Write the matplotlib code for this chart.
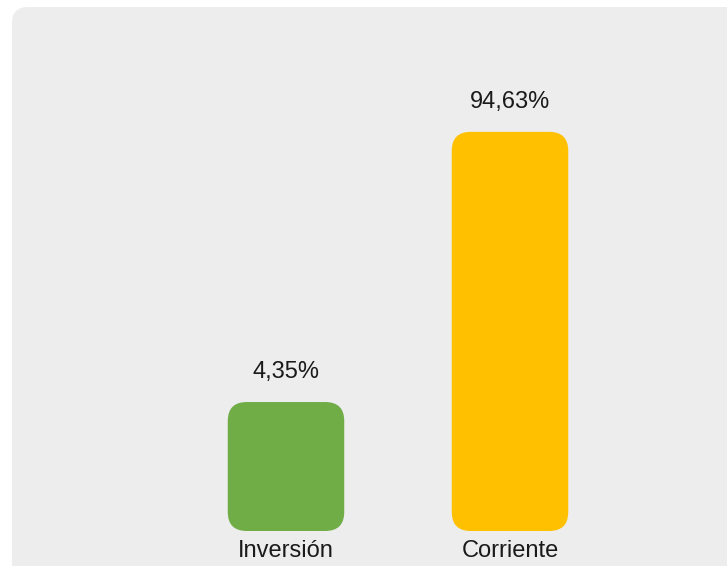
import matplotlib
matplotlib.use("Agg")
import matplotlib.pyplot as plt
from matplotlib.patches import FancyBboxPatch
from matplotlib.transforms import IdentityTransform

categories = ["Inversión", "Corriente"]
shares = [4.35, 94.63]
value_labels = ["4,35%", "94,63%"]
bar_colors = ["#70AD47", "#FFC000"]

W, H, DPI = 727, 566, 100
plt.rcParams["font.family"] = ["Liberation Sans Narrow", "Liberation Sans", "DejaVu Sans"]

fig = plt.figure(figsize=(W / DPI, H / DPI), dpi=DPI)
fig.patch.set_facecolor("white")

# grey rounded panel behind the chart (runs off the right and bottom edges)
panel = FancyBboxPatch((12, -20), W + 40, H - 7 + 20,
                       boxstyle="round,pad=0,rounding_size=16",
                       transform=IdentityTransform(), facecolor="#EDEDED",
                       edgecolor="none", zorder=0)
fig.patches.append(panel)

# axes spanning the figure: log scale, baseline at 1
base_px = 35
ax = fig.add_axes([0, base_px / H, 1, 1 - base_px / H])
ax.set_yscale("log")
px_per_unit = 224
ax.set_xlim(-286 / px_per_unit, (W - 286) / px_per_unit)
ax.set_ylim(1, 10 ** ((H - base_px) / 202.0))
ax.axis("off")
ax.patch.set_alpha(0)

width = 0.52
for i, (v, color, lab, cat) in enumerate(zip(shares, bar_colors, value_labels, categories)):
    x0, y0 = ax.transData.transform((i - width / 2, 1))
    x1, y1 = ax.transData.transform((i + width / 2, v))
    bar = FancyBboxPatch((x0, y0), x1 - x0, y1 - y0,
                         boxstyle="round,pad=0,rounding_size=19",
                         transform=IdentityTransform(), facecolor=color,
                         edgecolor="none", zorder=2)
    fig.patches.append(bar)
    cx = (x0 + x1) / 2
    fig.text(cx / W, (y1 + 19) / H, lab, ha="center", va="bottom",
             fontsize=17, color="#1a1a1a")
    fig.text(cx / W, (y0 - 9) / H, cat, ha="center", va="top",
             fontsize=17, color="#1a1a1a")

fig.savefig("out.png", dpi=DPI)
